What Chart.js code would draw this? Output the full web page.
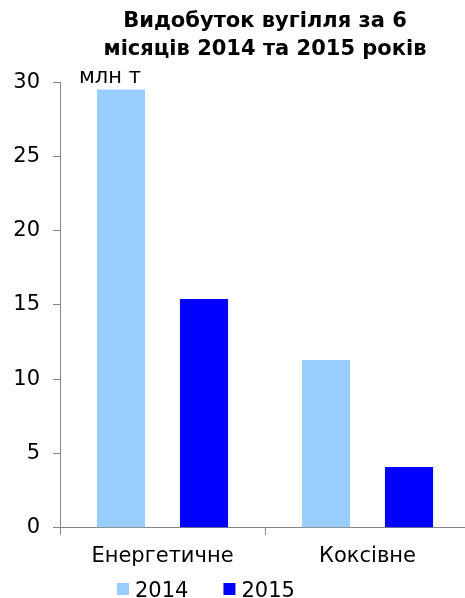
<!DOCTYPE html>
<html>
<head>
<meta charset="utf-8">
<script src="https://cdn.jsdelivr.net/npm/chart.js@4/dist/chart.umd.min.js"></script>
<style>
  html, body { margin: 0; padding: 0; background: #fff; overflow: hidden; }
  #wrap { width: 470px; height: 598px; }
</style>
</head>
<body>
<div id="wrap"><canvas id="c"></canvas></div>
<script>
// Coal output, million tonnes, first six months of each year
const categories = ['Енергетичне', 'Коксівне'];
const years = ['2014', '2015'];
const values2014 = [29.5, 11.3];
const values2015 = [15.4, 4.1];
const yTicks = [0, 5, 10, 15, 20, 25, 30];
const unitLabel = 'млн т';

const FONT = "'DejaVu Sans', Verdana, sans-serif";
const AXIS = '#868686';

// unit caption drawn just above the top of the value axis
const unitPlugin = {
  id: 'unitCaption',
  afterDraw(chart) {
    const { ctx, chartArea, scales } = chart;
    const y = scales.y.getPixelForValue(yTicks[yTicks.length - 1]);
    ctx.save();
    ctx.font = '21px ' + FONT;
    ctx.fillStyle = '#000';
    ctx.textAlign = 'left';
    ctx.textBaseline = 'alphabetic';
    ctx.fillText(unitLabel, chartArea.left + 19, y + 1);
    ctx.restore();
  }
};

// compact legend row under the category labels: small square, then the year
const legendRow = {
  id: 'legendRow',
  afterDraw(chart) {
    const { ctx } = chart;
    const baseline = chart.height - 1;
    let x = 117;
    ctx.save();
    ctx.font = '21px ' + FONT;
    ctx.textAlign = 'left';
    ctx.textBaseline = 'alphabetic';
    chart.data.datasets.forEach(ds => {
      ctx.fillStyle = ds.backgroundColor;
      ctx.fillRect(x, baseline - 14, 12, 12);
      x += 18;
      ctx.fillStyle = '#000';
      ctx.fillText(ds.label, x, baseline);
      x += ctx.measureText(ds.label).width + 35;
    });
    ctx.restore();
  }
};

new Chart(document.getElementById('c'), {
  type: 'bar',
  data: {
    labels: categories,
    datasets: [
      { label: years[0], data: values2014, backgroundColor: '#99CCFF' },
      { label: years[1], data: values2015, backgroundColor: '#0000FF' }
    ]
  },
  options: {
    responsive: true,
    maintainAspectRatio: false,
    animation: false,
    categoryPercentage: 0.81,
    barPercentage: 0.58,
    layout: { padding: { top: 7, right: 0, bottom: 20, left: 0 } },
    plugins: {
      title: {
        display: true,
        fullSize: false,
        text: ['Видобуток вугілля за 6', 'місяців 2014 та 2015 років'],
        font: { family: FONT, size: 21, weight: 'bold', lineHeight: 1.36 },
        color: '#000',
        padding: { top: 0, bottom: 18 }
      },
      legend: { display: false },
      tooltip: { enabled: false }
    },
    scales: {
      x: {
        grid: { display: true, drawOnChartArea: false, drawTicks: true, tickLength: 7, color: AXIS, offset: true },
        border: { color: AXIS, width: 1 },
        ticks: { font: { family: FONT, size: 21 }, color: '#000', padding: 9 }
      },
      y: {
        min: 0,
        max: 30,
        afterBuildTicks(scale) { scale.ticks = yTicks.map(v => ({ value: v })); },
        afterFit(scale) { scale.width = 60; },
        grid: { display: true, drawOnChartArea: false, drawTicks: true, tickLength: 7, color: AXIS },
        border: { color: AXIS, width: 1 },
        ticks: { font: { family: FONT, size: 21 }, color: '#000', padding: 13 }
      }
    }
  },
  plugins: [unitPlugin, legendRow]
});
</script>
</body>
</html>
